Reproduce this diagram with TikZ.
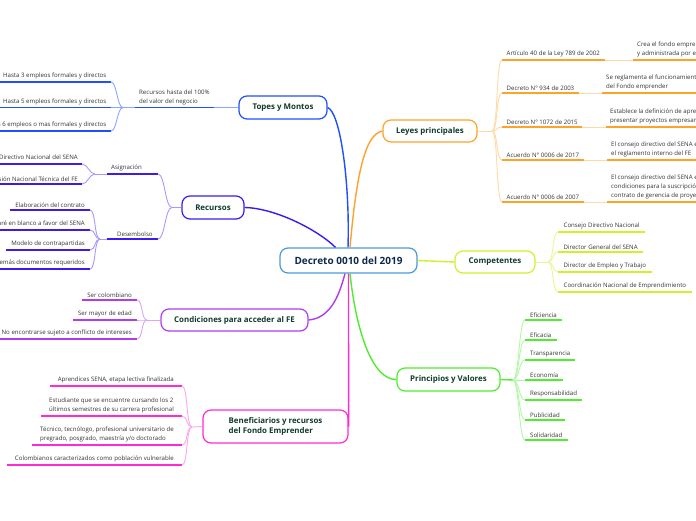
\documentclass[tikz,border=0pt]{standalone}
\usepackage{fontspec}
\setmainfont{Open Sans}
\definecolor{cDec}{HTML}{4A9AD8}
\definecolor{cTop}{HTML}{1F4FFF}\definecolor{cTopL}{HTML}{8CA6FF}
\definecolor{cRec}{HTML}{3A1CF0}\definecolor{cRecL}{HTML}{A59BFF}
\definecolor{cLey}{HTML}{FFA22A}\definecolor{cLeyL}{HTML}{FFD9A6}
\definecolor{cCom}{HTML}{D2F02A}\definecolor{cComL}{HTML}{E8F79A}
\definecolor{cCon}{HTML}{B03CF2}\definecolor{cConL}{HTML}{D9A6F9}
\definecolor{cPri}{HTML}{4EEE2E}\definecolor{cPriL}{HTML}{B4F8A6}
\definecolor{cBen}{HTML}{FF2AD0}\definecolor{cBenL}{HTML}{FFA6EC}
\definecolor{txtN}{HTML}{0E2A4A}
\definecolor{txtG}{HTML}{0F3B2C}
\definecolor{txtL}{HTML}{333333}
\newcommand\mmleaffont{\fontsize{6.1}{9}\selectfont}
\begin{document}
\begin{tikzpicture}[x=1pt,y=-1pt,
  mainbox/.style={draw, line width=1.2pt, rounded corners=8pt, fill=white,
    font=\bfseries\fontsize{7.9}{9.8}\selectfont, text=txtG, inner sep=0pt},
  leafL/.style={anchor=south east, inner xsep=4.5pt, inner ysep=2.4pt,
    font=\mmleaffont, text=txtL, align=left},
  leafR/.style={leafL, anchor=south west},
  ul/.style={line width=1.4pt},
  lc/.style={line width=0.9pt},
  conn/.style={line width=1.4pt}]
\useasboundingbox (0,0) rectangle (696,520);
\fill[white] (0,0) rectangle (696,520);

% ---------- main nodes ----------
\node[mainbox, draw=cDec, text=txtN, minimum width=137pt, minimum height=25pt,
  font=\bfseries\fontsize{10}{11}\selectfont] (dec) at (348.5,260.5) {Decreto 0010 del 2019};
\node[mainbox, draw=cTop, minimum width=88pt, minimum height=23pt] (top) at (283,107.5) {Topes y Montos};
\node[mainbox, draw=cLey, minimum width=94pt, minimum height=22pt] (ley) at (430,131) {Leyes principales};
\node[mainbox, draw=cRec, minimum width=62pt, minimum height=23pt] (rec) at (213,207.5) {Recursos};
\node[mainbox, draw=cCom, minimum width=80pt, minimum height=22pt] (com) at (495,262) {Competentes};
\node[mainbox, draw=cCon, minimum width=147pt, minimum height=22pt] (con) at (234.5,320) {Condiciones para acceder al FE};
\node[mainbox, draw=cPri, minimum width=103pt, minimum height=23pt] (pri) at (448.5,379.5) {Principios y Valores};
\node[mainbox, draw=cBen, minimum width=145pt, minimum height=33pt, align=left] (ben) at (275.5,426.5) {Beneficiarios y recursos\\del Fondo Emprender};

% ---------- main connectors ----------
\draw[conn, cTop] ([xshift=-0.5pt]dec.north) .. controls (350,180) and (340,112) .. (top.east);
\draw[conn, cLey] ([xshift=1.5pt]dec.north) .. controls (356,180) and (364,134) .. (ley.west);
\draw[conn, cRec] (rec.east) .. controls (275,208) and (318,230) .. ([xshift=-13pt]dec.north);
\draw[conn, cCom] (dec.east) -- (com.west);
\draw[conn, cCon] (con.east) .. controls (332,318) and (340,292) .. ([xshift=-3.5pt]dec.south);
\draw[conn, cPri] ([xshift=1.5pt]dec.south) .. controls (356,330) and (372,380) .. (pri.west);
\draw[conn, cBen] (dec.south) -- (ben.east);

% ---------- Topes y Montos ----------
\coordinate (tsplit) at (123,107.5);
\node[leafR, inner xsep=4pt] (tsub) at (135,107.5) {Recursos hasta del 100\%\\del valor del negocio};
\draw[ul, cTop] (tsub.south west) -- (tsub.south east);
\draw[lc, cTopL] (tsub.south east) -- (top.west);
\draw[lc, cTopL] (tsub.south west) -- (tsplit);
\node[leafL] (t1) at (111,82) {Hasta 3 empleos formales y directos};
\node[leafL] (t2) at (111,107.5) {Hasta 5 empleos formales y directos};
\node[leafL] (t3) at (111,131) {Hasta 6 empleos o mas formales y directos};
\foreach \n in {t1,t2,t3}{
  \draw[ul, cTop] (\n.south west) -- (\n.south east);
  \draw[lc, cTopL] (tsplit) .. controls +(-6,0) and +(6,0) .. (\n.south east);
}

% ---------- Recursos ----------
\coordinate (rsplit) at (172,207.5);
\draw[lc, cRecL] (rec.west) -- (rsplit);
\node[leafR, inner xsep=4pt] (asig) at (107,174) {Asignación};
\coordinate (asigR) at (158,174);
\node[leafR, inner xsep=4pt] (desm) at (113,239) {Desembolso};
\coordinate (desL) at (107,239);
\coordinate (desR) at (158,239);
\draw[ul, cRec] (asig.south west) -- (asigR);
\draw[ul, cRec] (desL) -- (desR);
\draw[lc, cRecL] (rsplit) .. controls +(-7,0) and +(7,0) .. (asigR);
\draw[lc, cRecL] (rsplit) .. controls +(-7,0) and +(7,0) .. (desR);
\coordinate (asplit) at (95,174);
\draw[lc, cRecL] (asig.south west) -- (asplit);
\node[leafL, inner xsep=4pt] (a1) at (82,164) {Consejo Directivo Nacional del SENA};
\node[leafL, inner xsep=4pt] (a2) at (82,184) {Comisión Nacional Técnica del FE};
\foreach \n in {a1,a2}{
  \draw[ul, cRec] (\n.south west) -- (\n.south east);
  \draw[lc, cRecL] (asplit) .. controls +(-6,0) and +(6,0) .. (\n.south east);
}
\coordinate (dsplit) at (100,239);
\draw[lc, cRecL] (desL) -- (dsplit);
\node[leafL, inner xsep=5pt] (d1) at (90,210) {Elaboración del contrato};
\node[leafL, inner xsep=5pt] (d2) at (90,230) {Pagaré en blanco a favor del SENA};
\node[leafL, inner xsep=5pt] (d3) at (90,250) {Modelo de contrapartidas};
\node[leafL, inner xsep=5pt] (d4) at (90,269) {Demás documentos requeridos};
\foreach \n in {d1,d2,d3,d4}{
  \draw[ul, cRec] (\n.south west) -- (\n.south east);
  \draw[lc, cRecL] (dsplit) .. controls +(-6,0) and +(6,0) .. (\n.south east);
}

% ---------- Condiciones ----------
\coordinate (csplit) at (147,320);
\draw[lc, cConL] (con.west) -- (csplit);
\node[leafL, inner xsep=5pt] (c1) at (137,300) {Ser colombiano};
\node[leafL, inner xsep=5pt] (c2) at (137,320) {Ser mayor de edad};
\node[leafL, inner xsep=5pt] (c3) at (137,339) {No encontrarse sujeto a conflicto de intereses};
\foreach \n in {c1,c2,c3}{
  \draw[ul, cCon] (\n.south west) -- (\n.south east);
  \draw[lc, cConL] (csplit) .. controls +(-6,0) and +(6,0) .. (\n.south east);
}

% ---------- Beneficiarios ----------
\coordinate (bsplit) at (192,427);
\draw[lc, cBenL] (ben.west) -- (bsplit);
\node[leafL, inner xsep=8pt] (b1) at (182,386) {Aprendices SENA, etapa lectiva finalizada};
\node[leafL, inner xsep=8pt] (b2) at (182,416) {Estudiante que se encuentre cursando los 2\\últimos semestres de su carrera profesional};
\node[leafL, inner xsep=8pt] (b3) at (182,445) {Técnico, tecnólogo, profesional universitario de\\pregrado, posgrado, maestría y/o doctorado};
\node[leafL, inner xsep=8pt] (b4) at (182,465) {Colombianos caracterizados como población vulnerable};
\foreach \n in {b1,b2,b3,b4}{
  \draw[ul, cBen] (\n.south west) -- (\n.south east);
  \draw[lc, cBenL] (bsplit) .. controls +(-6,0) and +(6,0) .. (\n.south east);
}

% ---------- Leyes principales ----------
\coordinate (lsplit) at (492,131);
\draw[lc, cLeyL] (ley.east) -- (lsplit);
\node[leafR] (l1) at (502,60) {Artículo 40 de la Ley 789 de 2002};
\node[leafR] (l2) at (502,93) {Decreto N° 934 de 2003};
\node[leafR] (l3) at (502,127) {Decreto N° 1072 de 2015};
\node[leafR] (l4) at (502,160) {Acuerdo N° 0006 de 2017};
\node[leafR] (l5) at (502,202) {Acuerdo N° 0006 de 2007};
\node[leafR, inner xsep=4pt] (k1) at (633,60) {Crea el fondo emprender adscrito al SENA\\y administrada por el SENA};
\node[leafR, inner xsep=4pt] (k2) at (602,93) {Se reglamenta el funcionamiento y operación\\del Fondo emprender};
\node[leafR, inner xsep=4pt] (k3) at (606,127) {Establece la definición de aprendices que pueden\\presentar proyectos empresariales};
\node[leafR, inner xsep=4pt] (k4) at (607,160) {El consejo directivo del SENA establece\\el reglamento interno del FE};
\node[leafR, inner xsep=4pt] (k5) at (607,202) {El consejo directivo del SENA establece las\\condiciones para la suscripción del\\contrato de gerencia de proyectos};
\foreach \n/\m in {l1/k1,l2/k2,l3/k3,l4/k4,l5/k5}{
  \draw[ul, cLey] (\n.south west) -- (\n.south east);
  \draw[ul, cLey] (\m.south west) -- (\m.south east);
  \draw[lc, cLeyL] (\n.south east) -- (\m.south west);
  \draw[lc, cLeyL] (lsplit) .. controls +(6,0) and +(-6,0) .. (\n.south west);
}

% ---------- Competentes ----------
\coordinate (msplit) at (548,262);
\draw[lc, cComL] (com.east) -- (msplit);
\node[leafR, inner xsep=5.5pt] (m1) at (558,232) {Consejo Directivo Nacional};
\node[leafR, inner xsep=5.5pt] (m2) at (558,252) {Director General del SENA};
\node[leafR, inner xsep=5.5pt] (m3) at (558,272) {Director de Empleo y Trabajo};
\node[leafR, inner xsep=5.5pt] (m4) at (558,292) {Coordinación Nacional de Emprendimiento};
\foreach \n in {m1,m2,m3,m4}{
  \draw[ul, cCom] (\n.south west) -- (\n.south east);
  \draw[lc, cComL] (msplit) .. controls +(6,0) and +(-6,0) .. (\n.south west);
}

% ---------- Principios y Valores ----------
\coordinate (psplit) at (513,380);
\draw[ul, cPri] (pri.east) -- (psplit);
\node[leafR, inner xsep=5pt] (p1) at (525,320) {Eficiencia};
\node[leafR, inner xsep=5pt] (p2) at (525,340) {Eficacia};
\node[leafR, inner xsep=5pt] (p3) at (525,360) {Transparencia};
\node[leafR, inner xsep=5pt] (p4) at (525,380) {Economía};
\node[leafR, inner xsep=5pt] (p5) at (525,400) {Responsabilidad};
\node[leafR, inner xsep=5pt] (p6) at (525,420) {Publicidad};
\node[leafR, inner xsep=5pt] (p7) at (525,440) {Solidaridad};
\foreach \n in {p1,p2,p3,p4,p5,p6,p7}{
  \draw[ul, cPri] (\n.south west) -- (\n.south east);
  \draw[lc, cPriL] (psplit) .. controls +(6,0) and +(-6,0) .. (\n.south west);
}
\end{tikzpicture}
\end{document}
